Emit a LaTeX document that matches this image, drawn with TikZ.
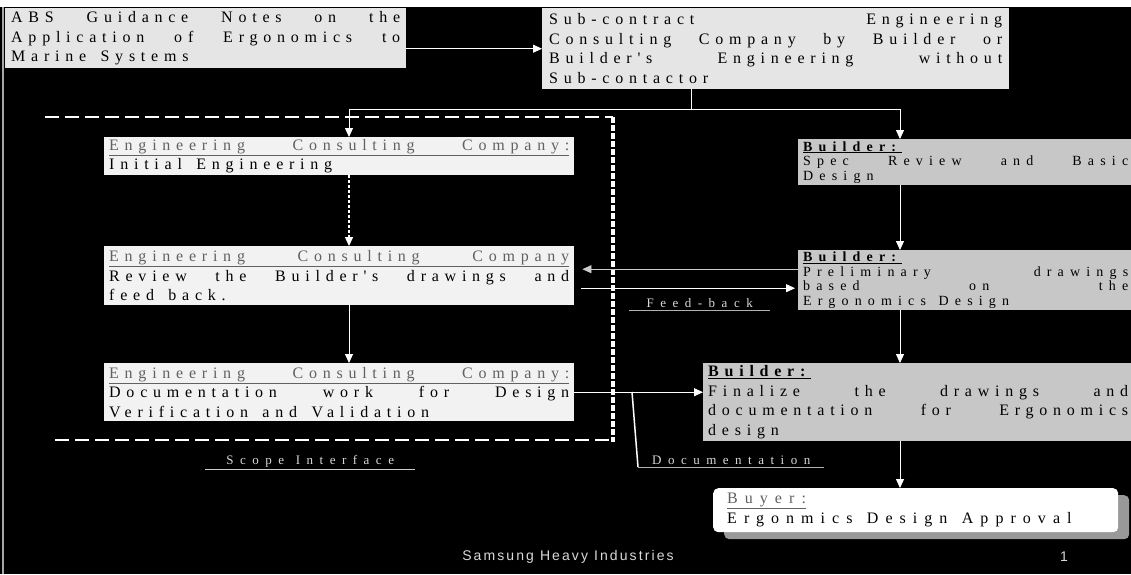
\documentclass[tikz,border=0pt]{standalone}
\usepackage{fontspec}
\setmainfont{Liberation Serif}
\newfontfamily\boxfont[LetterSpace=36]{Liberation Serif}
\newfontfamily\wideboxfont[LetterSpace=44]{Liberation Serif}
\newfontfamily\lblfont[LetterSpace=50]{Liberation Serif}
\newfontfamily\footfont[LetterSpace=15]{Liberation Sans}
\usetikzlibrary{arrows.meta,positioning,shadows}
\definecolor{srcfill}{gray}{.9}
\definecolor{engfill}{gray}{.95}
\definecolor{bldfill}{gray}{.78}
\definecolor{shadowgray}{gray}{.6}
\definecolor{hdrgray}{gray}{.38}
\definecolor{lblgray}{gray}{.85}
% explicit word gap (the spaced fonts eat plain spaces)
\newcommand\gap{\hspace{0.9em plus 1em}}
\newcommand\jl[1]{\makebox[\linewidth][s]{#1}}
\newcommand\hdr[1]{\textcolor{hdrgray}{\underline{\makebox[\linewidth][s]{#1}}}}
\newcommand\bfont[1]{\boxfont\fontsize{16pt}{#1}\selectfont}
\newcommand\wfont[2]{\wideboxfont\fontsize{#1}{#2}\selectfont}

\begin{document}
\begin{tikzpicture}[x=1pt, y=-1pt,
        box/.style={anchor=north west, inner ysep=1pt, align=left, text=black},
        srcbox/.style={box, fill=srcfill},
        engbox/.style={box, fill=engfill, inner xsep=5pt, text width=460pt, minimum height=#1, font={\bfont{19.5pt}}},
        bldbox/.style={box, fill=bldfill, inner xsep=5pt},
        flow/.style={-{Triangle[length=9pt, width=8pt]}, white, line width=0.8pt},
        wire/.style={white, line width=0.8pt},
        lbl/.style={font={\lblfont\fontsize{13pt}{14pt}\selectfont}, text=lblgray, anchor=south west, inner xsep=0pt, inner ysep=2pt},
        frame/.style={white, line width=1.6pt, dash pattern=on 14pt off 6pt}
    ]
    \useasboundingbox (0,0) rectangle (1131,574);
    \clip (0,0) rectangle (1131,574);
    \fill[black] (0,0) rectangle (1131,574);
    \fill[white] (0,0) rectangle (1131,6.5);
    \draw[gray!70, line width=1.2pt] (3,6.5) -- (3,574);
    % sources
    \node (abs) [srcbox, inner xsep=6pt, text width=389pt, minimum height=60pt, font={\bfont{19.5pt}}] at (5,8)
        {\jl{ABS\gap Guidance\gap Notes\gap on\gap the}\\ \jl{Application\gap of\gap Ergonomics\gap to}\\ Marine\gap Systems};
    \node (sub) [srcbox, inner xsep=7pt, text width=453pt, minimum height=81pt, font={\bfont{19.5pt}}] at (542,8)
        {\jl{Sub-contract\gap Engineering}\\ \jl{Consulting\gap Company\gap by\gap Builder\gap or}\\ \jl{Builder's\gap Engineering\gap without}\\ Sub-contactor};
    % scope interface frame
    \draw[frame] (45,117) -- (613,117);
    \draw[frame] (55,440) -- (613,440);
    \draw[white, line width=4.5pt, dash pattern=on 6pt off 2pt] (613,117) -- (613,442);
    % engineering consulting company
    \node (eng1) [engbox=38pt] at (104,137)
        {\hdr{Engineering\gap Consulting\gap Company:}\\ Initial\gap Engineering};
    \node (eng2) [engbox=59pt] at (104,246)
        {\hdr{Engineering\gap Consulting\gap Company}\\ \jl{Review\gap the\gap Builder's\gap drawings\gap and}\\ feed\gap back.};
    \node (eng3) [engbox=58pt] at (104,363)
        {\hdr{Engineering\gap Consulting\gap Company:}\\ \jl{Documentation\gap work\gap for\gap Design}\\ Verification\gap and\gap Validation};
    % builder
    \node (builder1) [bldbox, text width=325pt, minimum height=46pt, font={\wfont{14pt}{14.5pt}}] at (798,139)
        {\underline{\textbf{Builder:}}\\ \jl{Spec\gap Review\gap and\gap Basic}\\ Design};
    \node (builder2) [bldbox, text width=325pt, minimum height=60pt, font={\wfont{14pt}{14.5pt}}] at (798,250)
        {\underline{\textbf{Builder:}}\\ \jl{Preliminary\gap drawings}\\ \jl{based\gap on\gap the}\\ Ergonomics\gap Design};
    \node (builder3) [bldbox, text width=420pt, minimum height=78pt, font={\bfont{19.5pt}}] at (703,363)
        {\underline{\textbf{Builder:}}\\ \jl{Finalize\gap the\gap drawings\gap and}\\ \jl{documentation\gap for\gap Ergonomics}\\ design};
    % buyer
    \node (buyer) [box, fill=white, rounded corners=5pt, inner xsep=14pt, text width=377pt, minimum height=44pt,
        font={\wfont{16pt}{20pt}}, drop shadow={shadow xshift=11pt, shadow yshift=-7pt, fill=shadowgray, opacity=1}] at (713,488)
        {\textcolor{hdrgray}{\underline{Buyer:}}\\ Ergonmics\gap Design\gap Approval};
    % connectors
    \coordinate (ex) at (349,0);
    \coordinate (bx) at (900,0);
    \coordinate (split) at (691,109);
    \draw[flow] (abs.east |- sub.west) -- (sub.west);
    \draw[wire] (sub.south -| split) -- (split);
    \draw[flow] (split) -| (eng1.north -| ex);
    \draw[flow] (split) -| (builder1.north -| bx);
    \draw[flow, densely dashed, line width=1.4pt] (eng1.south -| ex) -- (eng2.north -| ex);
    \draw[flow] (eng2.south -| ex) -- (eng3.north -| ex);
    \draw[flow] (builder1.south -| bx) -- (builder2.north -| bx);
    \draw[flow] (builder2.south -| bx) -- (builder3.north -| bx);
    \draw[flow] (builder3.south -| bx) -- (buyer.north -| bx);
    % feed-back
    \draw[flow, white!80!black, shorten >=8pt] ([yshift=11pt]builder2.west) -- ([yshift=11pt]builder2.west -| eng2.east);
    \draw[flow, shorten <=7pt, shorten >=3pt] ([yshift=-12.5pt]eng2.east) -- ([yshift=-12.5pt]eng2.east -| builder2.west);
    \draw[flow] (eng3.east) -- (eng3.east -| builder3.west);
    % labels
    \node (fb) [lbl, minimum width=141pt] at (629,310) {Feed-back};
    \draw[gray!60, line width=0.8pt] (fb.south west) -- (fb.south east);
    \node (scope) [lbl, minimum width=210pt] at (205,469) {Scope\gap Interface};
    \draw[white!80!black, line width=1pt] (scope.south west) -- (scope.south east);
    \node (doc) [lbl, minimum width=186pt] at (638,467) {Documentation};
    \coordinate (doctap) at (632,392);
    \draw[white, line width=1.5pt] (doctap) -- (doc.south west);
    \draw[gray!60, line width=0.8pt] (doc.south west) -- (doc.south east);
    % footer
    \node (foot) [font={\footfont\fontsize{14pt}{16pt}\selectfont}, text=lblgray] at (568,557) {Samsung Heavy Industries};
    \node (page) [font={\footfont\fontsize{14pt}{16pt}\selectfont}, text=lblgray] at (1064,557) {1};
\end{tikzpicture}
\end{document}
